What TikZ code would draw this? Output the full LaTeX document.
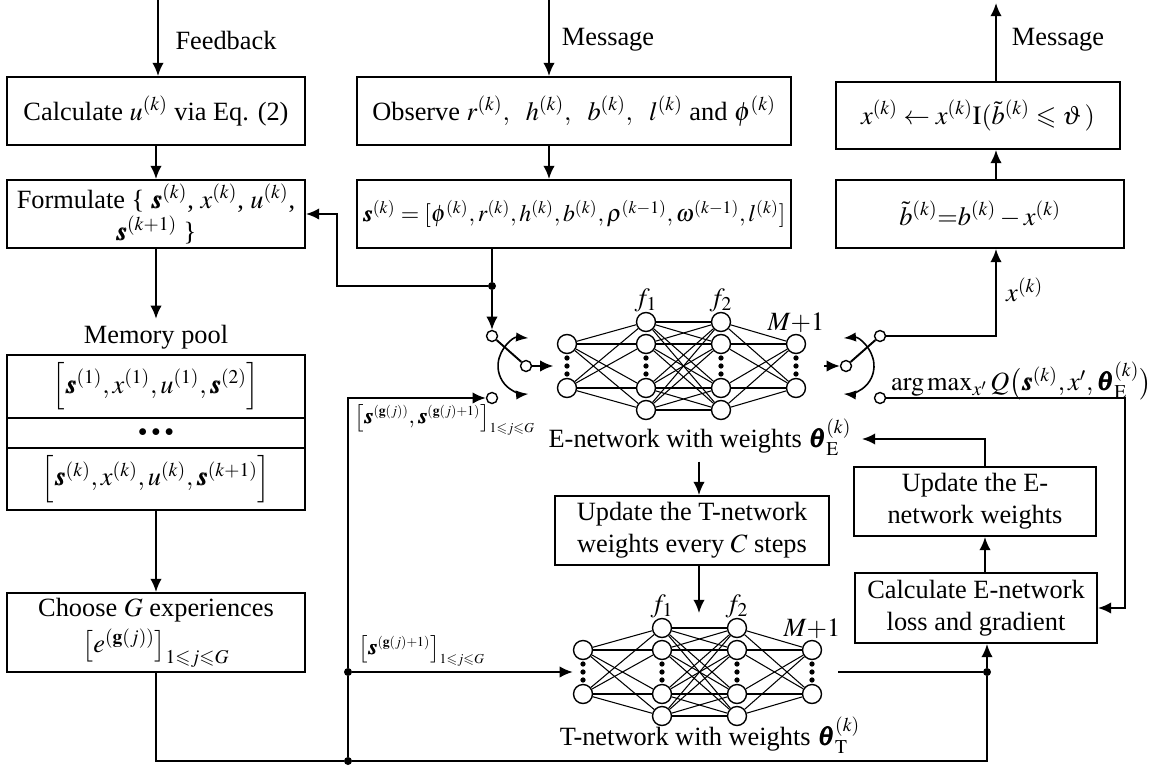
\documentclass[tikz,border=0pt]{standalone}
\usepackage{amsmath}
\IfFileExists{mathptmx.sty}{\usepackage{mathptmx}}{}
\usepackage{amssymb}
\usepackage{bm}
\usepackage{fontspec}
\setmainfont{Liberation Serif}
\usetikzlibrary{positioning,arrows.meta}
\tikzstyle{every node}=[font=\fontsize{15}{18}\selectfont]
\tikzstyle{box}=[draw,line width=1.1pt,align=center,inner sep=2pt]
\tikzstyle{link}=[line width=1.1pt]
\tikzstyle{arrow}=[line width=1.1pt,-{Latex[length=7.5pt,width=6.5pt]}]
\tikzstyle{neuron}=[draw,circle,line width=0.8pt,minimum size=0.38cm,inner sep=0pt]
\tikzstyle{contact}=[draw,circle,line width=0.8pt,minimum size=0.22cm,inner sep=0pt]
\tikzstyle{junction}=[fill,circle,minimum size=0.16cm,inner sep=0pt]
\tikzstyle{sample}=[anchor=west,inner sep=1pt,font=\fontsize{13}{15}\selectfont]

% network: #1 prefix, #2 x of input layer, #3 y of middle
\newcommand{\qnet}[3]{
  \foreach \k/\dy in {1/-22,2/22} {
    \node[neuron] (#1i\k) at (#2,#3+\dy) {};
    \node[neuron] (#1o\k) at (#2+229,#3+\dy) {};
  }
  \foreach \k/\dy in {1/-44,2/-22,3/22,4/44} {
    \node[neuron] (#1a\k) at (#2+79,#3+\dy) {};
    \node[neuron] (#1b\k) at (#2+154,#3+\dy) {};
  }
  \foreach \i in {1,2}
    \foreach \j in {1,...,4} {
      \draw[line width=0.6pt] (#1i\i) -- (#1a\j);
      \draw[line width=0.6pt] (#1b\j) -- (#1o\i);
    }
  \foreach \i in {1,...,4}
    \foreach \j in {1,...,4}
      \draw[line width=0.6pt] (#1a\i) -- (#1b\j);
  \foreach \x in {#2,#2+79,#2+154,#2+229}
    \foreach \dy in {-8,0,8}
      \fill (\x,#3+\dy) circle (1.5pt);
  \node (#1f1) at (#2+79,#3-66) {$f_1$};
  \node (#1f2) at (#2+154,#3-66) {$f_2$};
  \node (#1m) at (#2+229,#3-43) {$M{+}1$};
}
% small scripts for the sample labels
\newcommand{\sml}[1]{{\scriptscriptstyle #1}}

\begin{document}
\begin{tikzpicture}[x=0.02cm,y=-0.02cm]
\useasboundingbox (0,0) rectangle (1151,767);

% left column
\node[box,minimum width=5.96cm,minimum height=1.36cm] (calcu) at (156,111) {Calculate $u^{(k)}$ via Eq. (2)};
\node[box,minimum width=5.96cm,minimum height=1.36cm] (form) at (156,214) {Formulate \{ $\bm{s}^{(k)}$, $x^{(k)}$, $u^{(k)}$,\\ $\bm{s}^{(k+1)}$ \}};
\node (pool) at (156,337) {Memory pool};
\node[box,minimum width=5.96cm,minimum height=1.26cm] (row1) at (156,386.5) {$\Big[\bm{s}^{(1)}, x^{(1)}, u^{(1)}, \bm{s}^{(2)}\Big]$};
\node[box,minimum width=5.96cm,minimum height=0.6cm] (row2) at (156,433) {\fontsize{10}{12}\selectfont$\bullet\,\bullet\,\bullet$};
\node[box,minimum width=5.96cm,minimum height=1.24cm] (row3) at (156,479) {$\Big[\bm{s}^{(k)}, x^{(k)}, u^{(k)}, \bm{s}^{(k+1)}\Big]$};
\node[box,minimum width=5.96cm,minimum height=1.58cm] (choose) at (156,632.5) {Choose $G$ experiences\\[3pt] $\big[e^{(\mathbf{g}(j))}\big]_{1\leqslant j\leqslant G}$};

\coordinate (fbin) at (158,0);
\node (fblabel) at (226,40) {Feedback};
\draw[arrow] (fbin) -- (fbin |- calcu.north);
\draw[arrow] (calcu) -- (form);
\draw[arrow] (form.south) -- (pool.north);
\draw[arrow] (row3) -- (choose);

% middle column
\node[box,minimum width=8.68cm,minimum height=1.36cm] (obs) at (574,111) {Observe $r^{(k)},\ \ h^{(k)},\ \ b^{(k)},\ \ l^{(k)}$ and $\phi^{(k)}$};
\node[box,minimum width=8.68cm,minimum height=1.36cm,font=\fontsize{13.5}{16}\selectfont] (sk) at (574,214) {$\thinmuskip=2mu \bm{s}^{(k)} = [\phi^{(k)}, r^{(k)}, h^{(k)}, b^{(k)}, \rho^{(k-1)}, \omega^{(k-1)}, l^{(k)}]$};
\coordinate (msgin) at (549,0);
\node (msglabel) at (608,40) {Message};
\draw[arrow] (msgin) -- (msgin |- obs.north);
\draw[arrow] (msgin |- obs.south) -- (msgin |- sk.north);

% E-network and its input switch
\qnet{E}{567}{366}
\node (elabel) at (700,437) {E-network with weights $\bm{\theta}_{\mathrm{E}}^{(k)}$};
\node[junction] (j1) at (492,286) {};
\node[contact] (sw1a) at (492,336) {};
\node[contact] (sw1b) at (492,398) {};
\node[contact] (sw1o) at (526,366) {};
\coordinate (bend1) at (337,286);
\draw[link] (sk.south -| j1) -- (j1);
\draw[arrow] (j1) -- (bend1) |- (form.east);
\draw[arrow] (j1) -- (sw1a);
\draw[link] (sw1a) -- (sw1o);
\draw[line width=0.9pt,Latex-Latex] (sw1o) ++(85:0.56cm) arc[start angle=85,end angle=275,radius=0.56cm];
\draw[arrow,shorten >=2pt] (sw1o) -- (Ei1.west |- sw1o);

% T-network
\node[box,minimum width=5.48cm,minimum height=1.38cm] (upT) at (692,530.5) {Update the T-network\\weights every $C$ steps};
\qnet{T}{583}{672}
\node (tlabel) at (710,735) {T-network with weights $\bm{\theta}_{\mathrm{T}}^{(k)}$};
\coordinate (tx) at (699,613);
\draw[arrow] (elabel.south -| tx) -- (upT.north -| tx);
\draw[arrow] (upT.south -| tx) -- (tx);

% sampling lines
\node[junction] (j2) at (348,672) {};
\node[junction] (j3) at (348,761) {};
\node[junction] (j4) at (987,672) {};
\coordinate (tout) at (838,672);
\draw[link] (choose.south) |- (j3);
\draw[arrow] (j3) -- (j2) |- (sw1b);
\draw[arrow] (j2) -- (Ti1.west |- j2);
\draw[link] (tout) -- (j4);
\node[sample] (gl1) at (352,420) {$\big[\bm{s}^{\sml{(\mathbf{g}(j))}}, \bm{s}^{\sml{(\mathbf{g}(j)+1)}}\big]_{\sml{1\leqslant j\leqslant G}}$};
\node[sample] (gl2) at (356,651) {$\big[\bm{s}^{\sml{(\mathbf{g}(j)+1)}}\big]_{\sml{1\leqslant j\leqslant G}}$};

% right column
\node[box,minimum width=5.68cm,minimum height=1.34cm] (xq) at (978,115.5) {$x^{(k)} \leftarrow x^{(k)}\mathrm{I}(\tilde{b}^{(k)} \leqslant \vartheta\,)$};
\node[box,minimum width=5.76cm,minimum height=1.36cm] (bt) at (980,214) {$\tilde{b}^{(k)}{=}b^{(k)} - x^{(k)}$};
\node[box,minimum width=4.84cm,minimum height=1.38cm] (upE) at (975,501.5) {Update the E-\\network weights};
\node[box,minimum width=4.84cm,minimum height=1.4cm] (calcE) at (976,608) {Calculate E-network\\loss and gradient};
\coordinate (mx) at (996,3);
\node (msg2) at (1058,40) {Message};
\draw[arrow] (bt.north -| mx) -- (xq.south -| mx);
\draw[arrow] (xq.north -| mx) -- (mx);

% output switch
\node[contact] (sw2i) at (846,366) {};
\node[contact] (sw2a) at (880,336) {};
\node[contact] (sw2b) at (880,398) {};
\draw[arrow,shorten <=10pt] (Eo1.east |- sw2i) -- (sw2i);
\draw[link] (sw2i) -- (sw2a);
\draw[line width=0.9pt,Latex-Latex] (sw2i) ++(95:0.56cm) arc[start angle=95,end angle=-95,radius=0.56cm];
\coordinate (xkup) at (996,336);
\coordinate (qr) at (1125,398);
\coordinate (ux) at (985,439);
\coordinate (eback) at (862,439);
\draw[arrow] (sw2a) -- (xkup) -- (xkup |- bt.south);
\node[anchor=west] (xklabel) at (1000,290) {$x^{(k)}$};
\draw[arrow] (sw2b) -- (qr) |- (calcE.east);
\node[anchor=west,inner sep=1pt] (qlabel) at (889,381) {$\arg\max_{x'} Q\big(\bm{s}^{(k)}, x', \bm{\theta}_{\mathrm{E}}^{(k)}\big)$};
\draw[arrow] (upE.north -| ux) -- (ux) -- (eback);
\draw[arrow] (calcE.north -| ux) -- (upE.south -| ux);
\draw[arrow] (j3) -| (j4) -- (calcE.south -| j4);
\end{tikzpicture}
\end{document}
